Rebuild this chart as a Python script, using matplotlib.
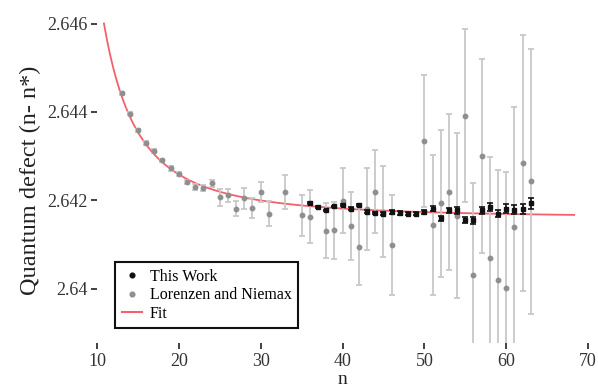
import matplotlib
matplotlib.use("Agg")
import matplotlib.pyplot as plt
from matplotlib.lines import Line2D
import numpy as np

plt.rcParams['font.family'] = ['Liberation Serif', 'DejaVu Serif']

# This Work (black)
n_this = [36, 37, 38, 39, 40, 41, 42, 43, 44, 45, 46, 47, 48, 49,
          50, 51, 52, 53, 54, 55, 56, 57, 58, 59, 60, 61, 62, 63]
d_this = [2.64193, 2.64185, 2.64177, 2.64186, 2.64189, 2.64181, 2.64189,
          2.64174, 2.64171, 2.64170, 2.64174, 2.64171, 2.64170, 2.64170,
          2.64174, 2.64181, 2.64159, 2.64177, 2.64177, 2.64155, 2.64155,
          2.64177, 2.64185, 2.64170, 2.64181, 2.64179, 2.64181, 2.64193]
e_this = [0.00002, 0.00002, 0.00002, 0.00002, 0.00003, 0.00003, 0.00003,
          0.00003, 0.00003, 0.00003, 0.00004, 0.00004, 0.00004, 0.00004,
          0.00005, 0.00005, 0.00006, 0.00006, 0.00007, 0.00007, 0.00008,
          0.00008, 0.00009, 0.00009, 0.00010, 0.00010, 0.00011, 0.00012]

# Lorenzen and Niemax (grey)
n_ln = [13, 14, 15, 16, 17, 18, 19, 20, 21, 22, 23, 24, 25, 26, 27, 28,
        29, 30, 31, 33, 35, 36, 38, 39, 40, 41, 42, 43, 44, 45, 46,
        50, 51, 52, 53, 54, 55, 56, 57, 58, 59, 60, 61, 62, 63]
d_ln = [2.64442, 2.64396, 2.64358, 2.64329, 2.64311, 2.64290, 2.64272,
        2.64260, 2.64241, 2.64230, 2.64228, 2.64238, 2.64207, 2.64211,
        2.64181, 2.64204, 2.64183, 2.64219, 2.64170, 2.64219, 2.64166,
        2.64163, 2.64131, 2.64132, 2.64199, 2.64142, 2.64095, 2.64180,
        2.64219, 2.64174, 2.64098,
        2.64334, 2.64144, 2.64193, 2.64219, 2.64165, 2.64391, 2.64031,
        2.64300, 2.64069, 2.64020, 2.64001, 2.64140, 2.64284, 2.64243]
e_ln = [0.00003, 0.00003, 0.00003, 0.00004, 0.00004, 0.00004, 0.00005,
        0.00005, 0.00005, 0.00006, 0.00007, 0.00008, 0.00019, 0.00015,
        0.00017, 0.00023, 0.00023, 0.00023, 0.00028, 0.00038, 0.00047,
        0.00060, 0.00062, 0.00064, 0.00073, 0.00077, 0.00087, 0.00093,
        0.00094, 0.00103, 0.00113,
        0.00150, 0.00158, 0.00166, 0.00176, 0.00187, 0.00196, 0.00207,
        0.00219, 0.00230, 0.00248, 0.00263, 0.00270, 0.00290, 0.00300]

# Ritz fit: delta = delta0 + delta2 / (n - delta0)^2
delta0 = 2.6416
delta2 = 0.2965
n_fit = np.linspace(10.85, 68.3, 300)
d_fit = delta0 + delta2 / (n_fit - delta0) ** 2

xticks = [10, 20, 30, 40, 50, 60, 70]
yticks = [2.640, 2.642, 2.644, 2.646]
yticklabels = ['2.64', '2.642', '2.644', '2.646']

fig = plt.figure(figsize=(5.98, 3.91), dpi=100)
ax = fig.add_axes([0.1622, 0.1228, 0.8211, 0.834])

ax.plot(n_fit, d_fit, color='#f4606c', lw=1.3, zorder=1)
ax.errorbar(n_ln, d_ln, yerr=e_ln, fmt='o', ms=3.2, color='#8f8f8f',
            ecolor='#c8c8c8', elinewidth=1.3, capsize=2.5, capthick=1.3,
            zorder=2)
ax.errorbar(n_this, d_this, yerr=e_this, fmt='s', ms=3.4, color='#111111',
            ecolor='#111111', elinewidth=1.2, capsize=2, capthick=1.2,
            zorder=3)

ax.set_xlim(10, 70)
ax.set_ylim(2.63877, 2.64615)
ax.set_xticks(xticks)
ax.set_yticks(yticks)
ax.set_yticklabels(yticklabels)
for s in ax.spines.values():
    s.set_visible(False)
ax.tick_params(length=4, width=1.3, color='#333333', labelsize=13,
               labelcolor='#333333', pad=3)

ax.set_xlabel('n', fontsize=14, color='#222222', labelpad=1)
ax.set_ylabel('Quantum defect (n- n*)', fontsize=17.5, color='#222222',
              labelpad=4)

handles = [
    Line2D([], [], ls='none', marker='o', ms=3.4, color='#111111'),
    Line2D([], [], ls='none', marker='o', ms=3.4, color='#8f8f8f'),
    Line2D([], [], color='#f4606c', lw=1.5),
]
labels = ['This Work', 'Lorenzen and Niemax', 'Fit']
leg = ax.legend(handles, labels,
                loc='lower left', bbox_to_anchor=(0.037, 0.046),
                borderaxespad=0, fontsize=11.5, frameon=True, fancybox=False,
                edgecolor='#111111', labelspacing=0.15, handlelength=1.3,
                handletextpad=0.45, borderpad=0.4, framealpha=1)
leg.get_frame().set_linewidth(1.5)

fig.savefig('out.png', dpi=100)
